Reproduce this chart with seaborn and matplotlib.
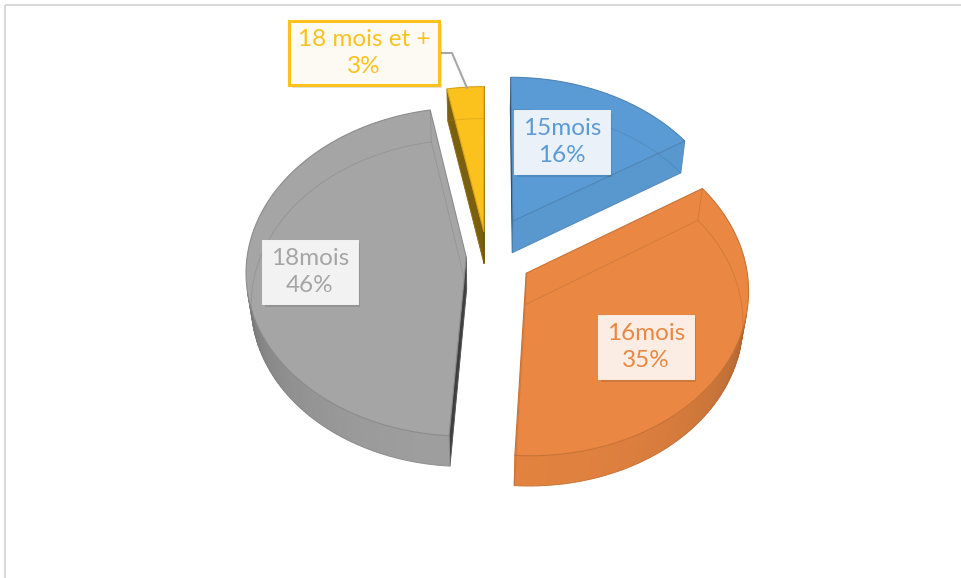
import numpy as np
import matplotlib
matplotlib.use("Agg")
import matplotlib.pyplot as plt
from matplotlib.patches import Polygon, Rectangle
import matplotlib.patheffects as pe
import seaborn as sns

# Age groups and their share of the total (percent)
categories = ["15mois", "16mois", "18mois", "18 mois et +"]
shares = [16, 35, 46, 3]

sns.set_theme(style="white")
palette = sns.color_palette(["#5B9BD5", "#EA8742", "#A5A5A5", "#FBC11C"])
plt.rcParams["font.family"] = ["Lato", "DejaVu Sans"]

W, H = 962, 578
fig = plt.figure(figsize=(W / 100, H / 100), dpi=100)
ax = fig.add_axes([0, 0, 1, 1])
ax.set_xlim(0, W)
ax.set_ylim(H, 0)
ax.axis("off")

# --- simple perspective camera for the 3-D pie -------------------------
CX, CY = 487.0, 256.0           # screen position of the pie centre
BETA = np.radians(48)           # elevation of the camera
DIST = 7.4                      # camera distance (in pie radii)
FOCAL = 219.0 * DIST
THICK = 0.22                    # pie thickness (in pie radii)
explode = [0.25, 0.206, 0.095, 0.15]
CAM = np.array([0.0, DIST * np.cos(BETA), DIST * np.sin(BETA)])


def project(u, v, z):
    u, v, z = np.broadcast_arrays(np.asarray(u, float), np.asarray(v, float),
                                  np.asarray(z, float))
    depth = DIST - v * np.cos(BETA) - z * np.sin(BETA)
    X = CX + FOCAL * u / depth
    Y = CY + FOCAL * (v * np.sin(BETA) - z * np.cos(BETA)) / depth
    return np.column_stack([X, Y])


def shade(color, f):
    c = np.clip(np.array(color) * f, 0, 1)
    return tuple(c)


def visible(point, normal):
    return np.dot(CAM - point, normal) > 0


fractions = np.array(shares, float) / np.sum(shares)
bounds = np.concatenate([[0.0], np.cumsum(fractions)]) * 2 * np.pi

slices = []
for i, share in enumerate(shares):
    a0, a1 = bounds[i], bounds[i + 1]
    mid = 0.5 * (a0 + a1)
    du, dv = explode[i] * np.sin(mid), -explode[i] * np.cos(mid)
    n = max(int(np.degrees(a1 - a0) / 1.5), 3)
    th = np.linspace(a0, a1, n + 1)
    slices.append(dict(i=i, a0=a0, a1=a1, mid=mid, du=du, dv=dv, th=th,
                       depth=-(dv - np.cos(mid) * 0.5)))

# paint from the back of the scene to the front
for s in sorted(slices, key=lambda s: s["depth"]):
    i, th, du, dv = s["i"], s["th"], s["du"], s["dv"]
    col = palette[i]
    ru, rv = du + np.sin(th), dv - np.cos(th)

    # radial (cut) faces
    for ang, sign in ((s["a0"], -1), (s["a1"], 1)):
        nrm = sign * np.array([np.cos(ang), np.sin(ang), 0.0])
        pu, pv = du + np.sin(ang), dv - np.cos(ang)
        centre = np.array([(du + pu) / 2, (dv + pv) / 2, -THICK / 2])
        if visible(centre, nrm):
            f = 0.32 + 0.76 * np.clip(nrm[1], 0, 1) ** 0.9
            pts = project([du, pu, pu, du], [dv, pv, pv, dv],
                          [0, 0, -THICK, -THICK])
            ax.add_patch(Polygon(pts, closed=True, fc=shade(col, f),
                                 ec=shade(col, f), lw=0.6, zorder=2))

    # outer rim
    for k in range(len(th) - 1):
        tm = 0.5 * (th[k] + th[k + 1])
        nrm = np.array([np.sin(tm), -np.cos(tm), 0.0])
        centre = np.array([du + np.sin(tm), dv - np.cos(tm), -THICK / 2])
        if not visible(centre, nrm):
            continue
        nv = max(-np.cos(tm), 0)
        f = 0.62 + 0.34 * nv ** 0.7
        pts = project([ru[k], ru[k + 1], ru[k + 1], ru[k]],
                      [rv[k], rv[k + 1], rv[k + 1], rv[k]],
                      [0, 0, -THICK, -THICK])
        ax.add_patch(Polygon(pts, closed=True, fc=shade(col, f),
                             ec=shade(col, f), lw=0.7, zorder=2))

    # top face
    top = project(np.r_[du, ru], np.r_[dv, rv], 0)
    ax.add_patch(Polygon(top, closed=True, fc=col, ec=shade(col, 0.85),
                         lw=0.8, zorder=3))

    # faint hidden edges showing through the glossy top
    bottom = project(np.r_[du, ru, du], np.r_[dv, rv, dv], -THICK)
    ax.plot(bottom[:, 0], bottom[:, 1], color=shade(col, 0.7), lw=0.7,
            alpha=0.3, zorder=4)
    for uu, vv in ((du, dv), (ru[0], rv[0]), (ru[-1], rv[-1])):
        e = project([uu, uu], [vv, vv], [0, -THICK])
        ax.plot(e[:, 0], e[:, 1], color=shade(col, 0.7), lw=0.7,
                alpha=0.3, zorder=4)

# --- data labels -------------------------------------------------------
label_pos = [(562, 142), (646, 347), (310, 272), (364, 53)]
box_fc = ["#EAF1F9", "#FBEDE4", "#F2F2F2", "#FCFAF3"]
for i, (cat, share) in enumerate(zip(categories, shares)):
    x, y = label_pos[i]
    gold = i == 3
    t = ax.text(x, y, f"{cat}\n{share}%", ha="center", va="center",
                fontsize=17.5, color=palette[i], linespacing=1.3, zorder=6,
                bbox=dict(boxstyle="square,pad=0.35", fc=box_fc[i],
                          ec=palette[i] if gold else box_fc[i],
                          lw=2.2 if gold else 0.5))
    t.get_bbox_patch().set_path_effects(
        [pe.withSimplePatchShadow(offset=(2, -2), shadow_rgbFace="k",
                                  alpha=0.12), pe.Normal()])

# leader line to the thin slice
ax.plot([440, 452, 467], [53, 53, 88], color="#A6A6A6", lw=1.5, zorder=5)

# chart area border
ax.add_patch(Rectangle((5, 5), 2000, 2000, fill=False, ec="#D9D9D9",
                       lw=1.5, zorder=1))

fig.savefig("out.png", dpi=100)
